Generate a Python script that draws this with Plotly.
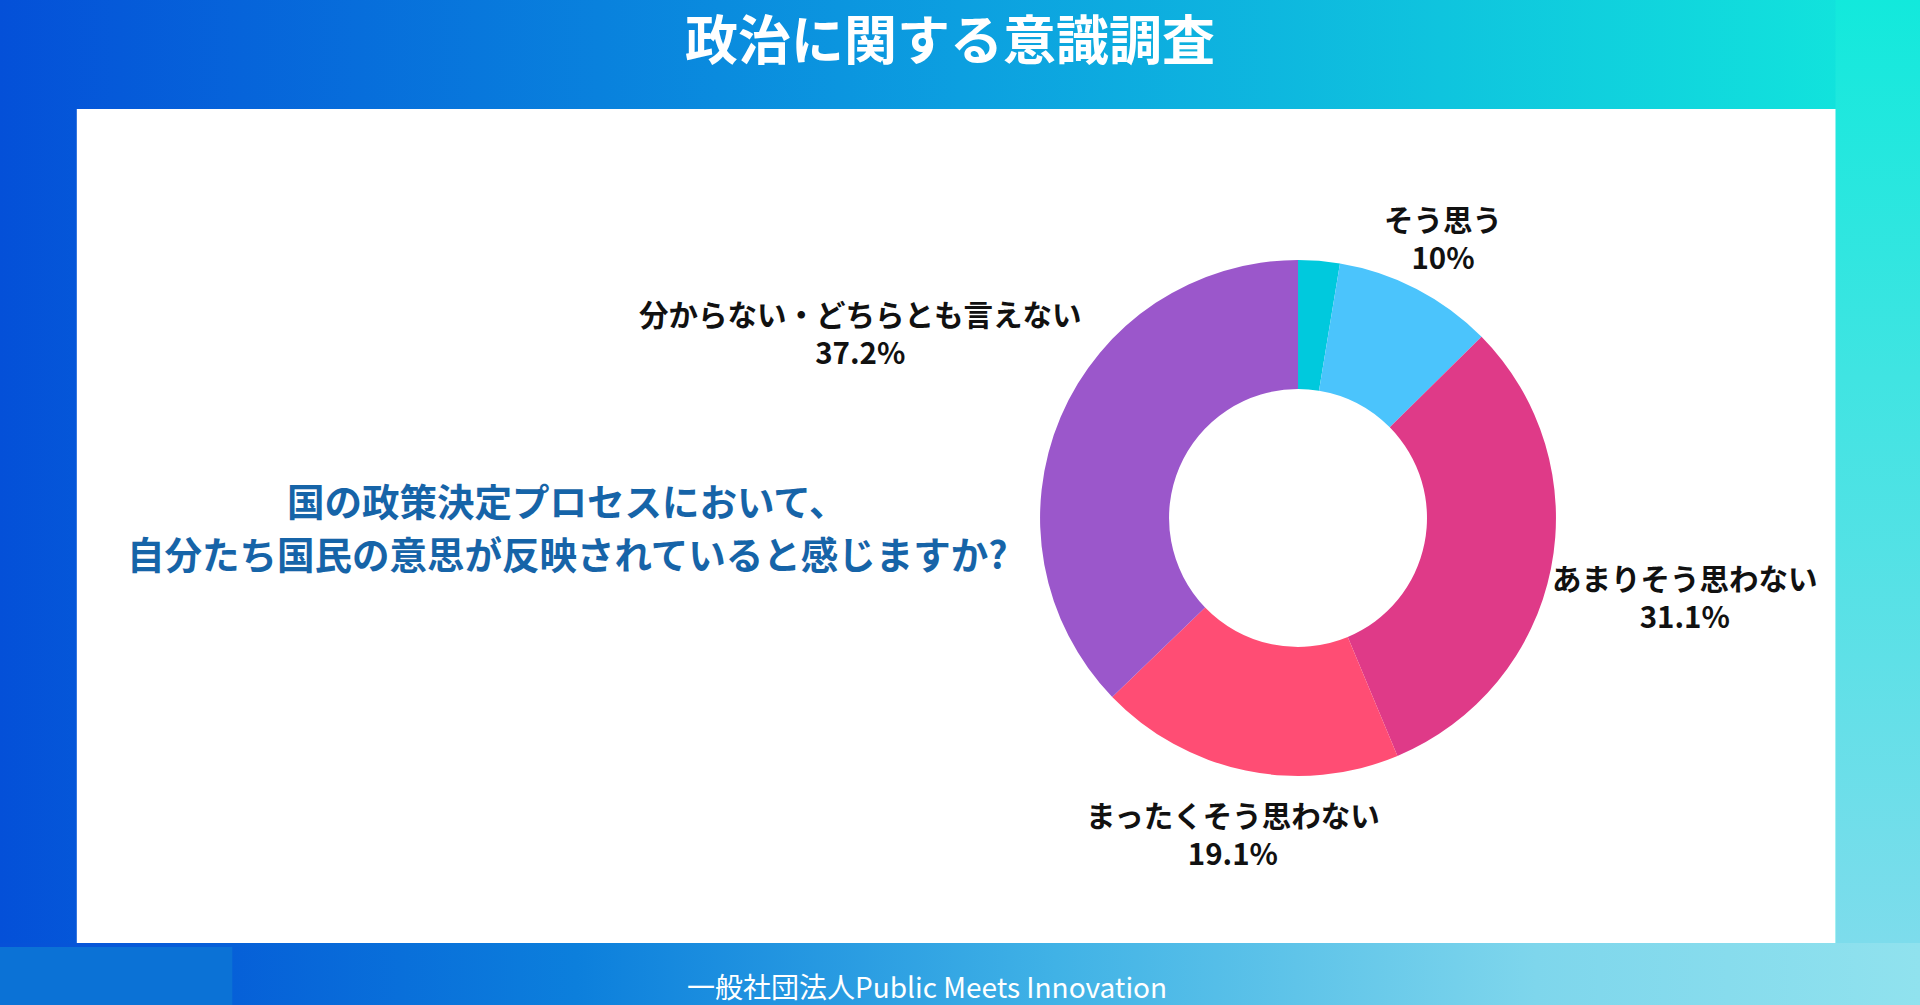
import math
import plotly.graph_objects as go

# 回答データ（単位：%）
labels = ["とてもそう思う", "そう思う", "あまりそう思わない", "まったくそう思わない", "分からない・どちらとも言えない"]
values = [2.6, 10.0, 31.1, 19.1, 37.2]
shown = [False, True, True, True, True]
colors = ["#00c9dd", "#4bc4fc", "#df3a88", "#ff4d74", "#9b57cb"]

title_text = "政治に関する意識調査"
question_lines = ["国の政策決定プロセスにおいて、", "自分たち国民の意思が反映されていると感じますか?"]
footer_text = "一般社団法人Public Meets Innovation"

FONT = "Noto Sans CJK JP"
W, H = 1920, 1005
PIE_X = [0.5417, 0.8104]
PIE_Y = [0.2279, 0.7413]
LABEL_SIZE = 29.5

fig = go.Figure()

# 背景グラデーション
fig.add_trace(go.Scatter(
    x=[0, 1, 1, 0, 0], y=[0, 0, 1, 1, 0],
    mode="lines", line=dict(width=0), fill="toself",
    fillgradient=dict(type="horizontal",
                      colorscale=[[0, "#0450d8"], [0.5, "#0c9fe0"], [1, "#12e9dc"]]),
    hoverinfo="skip", showlegend=False,
))
# 下帯（右側が明るい）
fig.add_trace(go.Scatter(
    x=[0, 1, 1, 0, 0], y=[0, 0, 0.0617, 0.0617, 0],
    mode="lines", line=dict(width=0), fill="toself",
    fillgradient=dict(type="horizontal",
                      colorscale=[[0, "#0650d8"], [0.12, "#0660d8"], [0.3, "#0c7fdc"],
                                  [0.55, "#40b2e6"], [0.8, "#7ed6ec"], [1, "#90e2ee"]]),
    hoverinfo="skip", showlegend=False,
))
# 左下の小ブロック
fig.add_trace(go.Scatter(
    x=[0, 0.121, 0.121, 0, 0], y=[0, 0, 0.0577, 0.0577, 0],
    mode="lines", line=dict(width=0), fill="toself", fillcolor="#0b72d6",
    hoverinfo="skip", showlegend=False,
))
# 右帯（上から下へ明るく）
fig.add_trace(go.Scatter(
    x=[0.956, 1, 1, 0.956, 0.956], y=[0.0617, 0.0617, 1, 1, 0.0617],
    mode="lines", line=dict(width=0), fill="toself",
    fillgradient=dict(type="vertical",
                      colorscale=[[0, "#7ddcec"], [0.6, "#40e4e2"], [1, "#12e9dc"]]),
    hoverinfo="skip", showlegend=False,
))
# 白いパネル
fig.add_trace(go.Scatter(
    x=[0.040, 0.956, 0.956, 0.040, 0.040], y=[0.0617, 0.0617, 0.8915, 0.8915, 0.0617],
    mode="lines", line=dict(width=0), fill="toself", fillcolor="white",
    hoverinfo="skip", showlegend=False,
))

fig.add_trace(go.Pie(
    labels=labels,
    values=values,
    textinfo="none",
    marker=dict(colors=colors, line=dict(width=0)),
    hole=0.5,
    sort=False,
    direction="clockwise",
    rotation=0,
    domain=dict(x=PIE_X, y=PIE_Y),
    hoverinfo="label+percent",
    showlegend=False,
))

# ラベル：各スライスの中央角の外側に配置
cx = W * sum(PIE_X) / 2
cy = H * (1 - sum(PIE_Y) / 2)
radius = min(W * (PIE_X[1] - PIE_X[0]), H * (PIE_Y[1] - PIE_Y[0])) / 2
total = sum(values)
cum = 0.0
for lab, val, s in zip(labels, values, shown):
    mid = (cum + val / 2) / total * 2 * math.pi
    cum += val
    if not s:
        continue
    pct = f"{val:g}%"
    text_w = max(sum(LABEL_SIZE if ord(ch) > 127 else LABEL_SIZE * 0.6 for ch in line)
                 for line in (lab, pct))
    half_w, half_h = text_w / 2, 35
    sx, sy = math.sin(mid), -math.cos(mid)
    dist = radius + half_w * abs(sx) + half_h * abs(sy)
    px, py = cx + sx * dist, cy + sy * dist
    fig.add_annotation(
        text=f"{lab}<br>{pct}", x=px / W, y=1 - py / H, xref="paper", yref="paper",
        showarrow=False, xanchor="center", yanchor="middle", align="center",
        font=dict(family=FONT, size=LABEL_SIZE, color="#111111", weight="bold"),
    )

fig.add_annotation(
    text=title_text, x=0.495, y=0.963, xref="paper", yref="paper",
    showarrow=False, xanchor="center", yanchor="middle",
    font=dict(family=FONT, size=53, color="white", weight="bold"),
)
for line, ypos in zip(question_lines, [0.5029, 0.4505]):
    fig.add_annotation(
        text=line, x=0.2955, y=ypos, xref="paper", yref="paper",
        showarrow=False, xanchor="center", yanchor="middle",
        font=dict(family=FONT, size=37.5, color="#1664a8", weight="bold"),
    )
fig.add_annotation(
    text=footer_text, x=0.483, y=0.019, xref="paper", yref="paper",
    showarrow=False, xanchor="center", yanchor="middle",
    font=dict(family=FONT, size=28, color="white"),
)

fig.update_layout(
    width=W, height=H,
    margin=dict(l=0, r=0, t=0, b=0),
    paper_bgcolor="white",
    plot_bgcolor="rgba(0,0,0,0)",
    xaxis=dict(range=[0, 1], visible=False, fixedrange=True),
    yaxis=dict(range=[0, 1], visible=False, fixedrange=True),
)

fig.write_html("out.html", post_script="document.body.style.margin='0';",
               config={"displayModeBar": False})
